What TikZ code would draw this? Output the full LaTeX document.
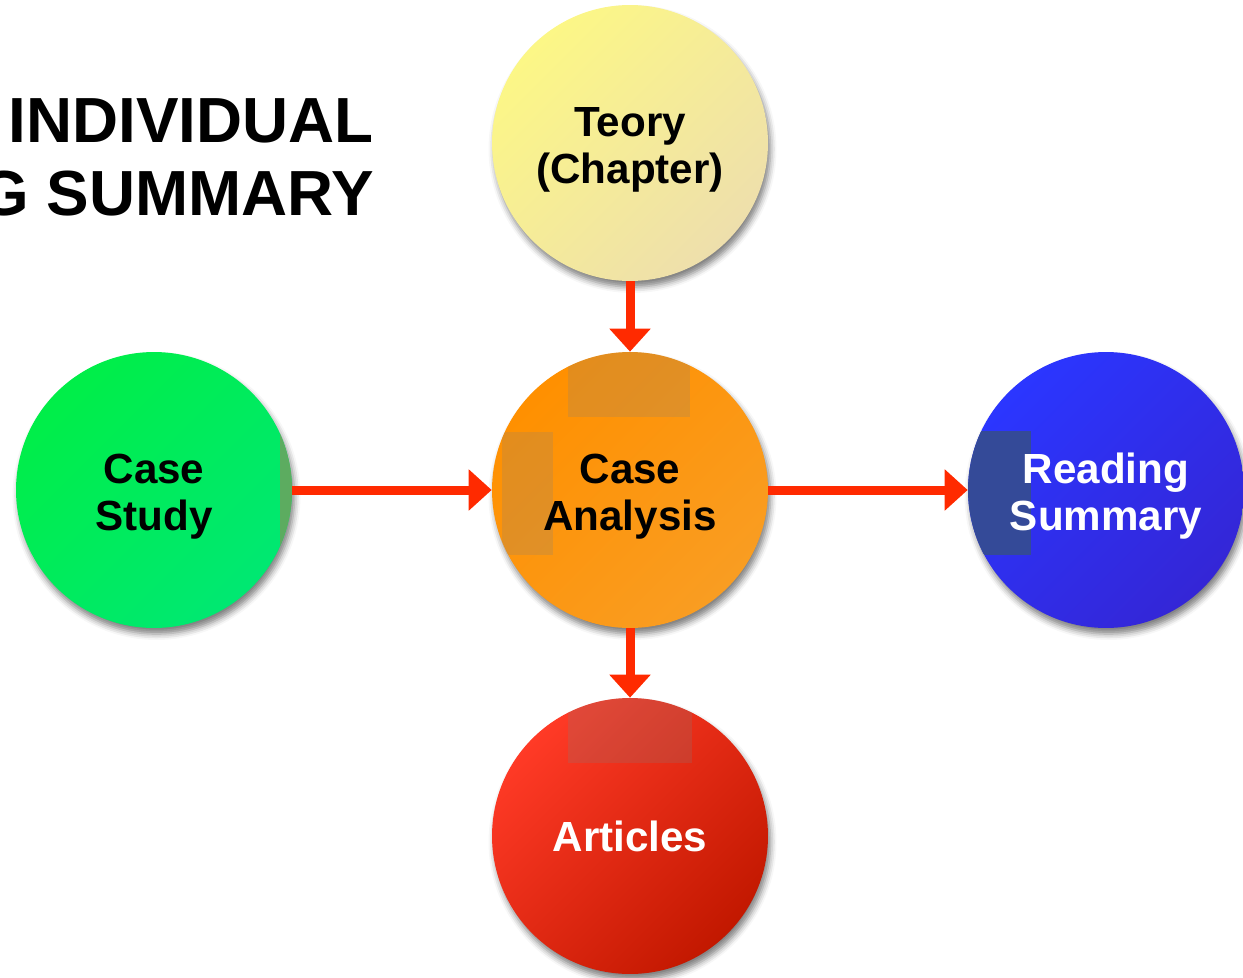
\documentclass[tikz,border=0pt]{standalone}
\usepackage{fontspec}
\setmainfont{Liberation Sans}
\usetikzlibrary{arrows.meta,calc,shadows.blur}

\definecolor{linkred}{HTML}{FF2A00}
\definecolor{yellowA}{HTML}{FCF786}
\definecolor{yellowB}{HTML}{EEDFAC}
\definecolor{orangeA}{HTML}{FF9000}
\definecolor{orangeB}{HTML}{F99D22}
\definecolor{greenA}{HTML}{00EE48}
\definecolor{greenB}{HTML}{00E872}
\definecolor{blueA}{HTML}{2B36FF}
\definecolor{blueB}{HTML}{3426D6}
\definecolor{redA}{HTML}{FF3A26}
\definecolor{redB}{HTML}{C21800}

\tikzset{
	bubble/.style={circle, minimum size=5.52cm, inner sep=0pt, align=center,
		font=\fontsize{24}{26.6}\selectfont\bfseries,
		blur shadow={shadow xshift=0.05cm, shadow yshift=-0.12cm, shadow blur radius=0.12cm, shadow opacity=50}},
	tint/.style 2 args={top color=#1, bottom color=#2, shading angle=45},
	link/.style={draw=linkred, line width=0.18cm, -{Triangle[width=0.8cm,length=0.46cm]}},
	heading/.style={anchor=base east, inner sep=0pt, font=\fontsize{36.3}{40}\selectfont\bfseries},
	patch/.style={fill=gray, fill opacity=0.22},
}
\newcommand{\patchrect}[2]{\fill[patch] ($(path picture bounding box.center)+(#1)$) rectangle ($(path picture bounding box.center)+(#2)$);}
\newcommand{\topstrut}{\rule{0pt}{24.5pt}}

\begin{document}
\begin{tikzpicture}[x=0.02cm, y=-0.02cm]
		%%%%% START %%%%%
		\useasboundingbox (0, 0) rectangle (1243, 977);
		
		\node[heading] (title1) at (374, 142) {INDIVIDUAL};
		\node[heading] (title2) at (374, 215) {G SUMMARY};
		
		\node[bubble, tint={yellowA}{yellowB}] (teory) at (630, 143) {\topstrut Teory\\(Chapter)};
		
		\node[bubble, tint={orangeA}{orangeB},
			path picture={\patchrect{-62,-140}{60,-73}\patchrect{-128,-58}{-77,65}}] (analysis) at (630, 490) {\topstrut Case\\Analysis};
		
		\node[bubble, tint={greenA}{greenB},
			path picture={\fill[fill={rgb,255:red,92;green,172;blue,96}] ($(path picture bounding box.center)+(126,-58)$) rectangle ($(path picture bounding box.center)+(146,65)$);}] (study) at (154, 490) {\topstrut Case\\Study};
		
		\node[bubble, tint={blueA}{blueB}, text=white,
			path picture={\fill[fill={rgb,255:red,52;green,74;blue,152}] ($(path picture bounding box.center)+(-140,-59)$) rectangle ($(path picture bounding box.center)+(-75,65)$);}] (summary) at (1106, 490) {\topstrut Reading\\Summary};
		
		\node[bubble, tint={redA}{redB}, text=white,
			path picture={\patchrect{-62,-140}{62,-73}}] (articles) at (630, 836) {Articles};
		
		\draw[link] (teory) -- (analysis);
		\draw[link] (study) -- (analysis);
		\draw[link] (analysis) -- (summary);
		\draw[link] (analysis) -- (articles);
		
		%%%%% END %%%%%
\end{tikzpicture}
\end{document}
